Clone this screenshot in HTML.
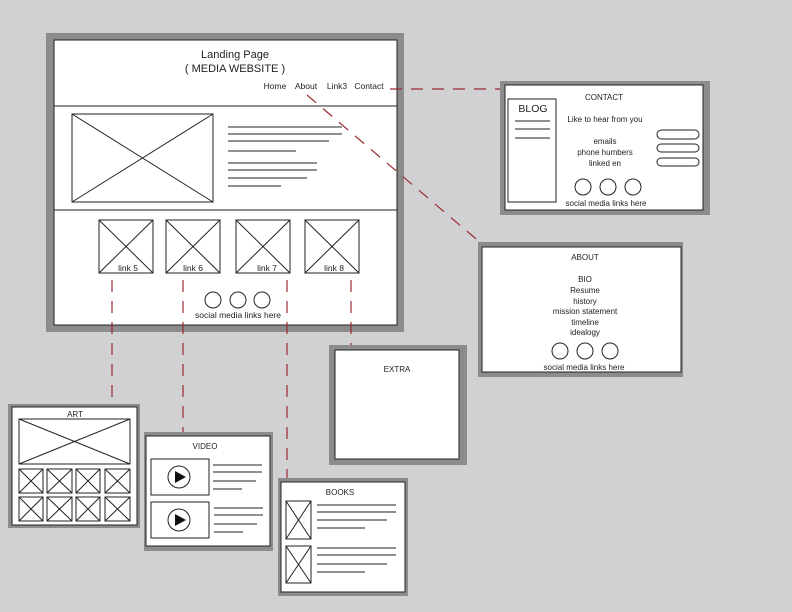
<!DOCTYPE html>
<html><head><style>html,body{margin:0;padding:0;background:#d1d1d3}svg{display:block}text{font-family:"Liberation Sans",sans-serif;fill:#222}</style></head><body>
<svg width="792" height="612" viewBox="0 0 792 612" xmlns="http://www.w3.org/2000/svg">
<rect width="792" height="612" fill="#d1d1d3"/>
<!-- main -->
<rect x="46" y="33" width="358" height="299" fill="#8c8c8c"/>
<rect x="54" y="40" width="343" height="285" fill="#fff" stroke="#222"/>
<g stroke="#222" fill="none" stroke-width="1">
<line x1="54" y1="106" x2="397" y2="106"/><line x1="54" y1="210" x2="397" y2="210"/>
<rect x="72" y="114" width="141" height="88"/><line x1="72" y1="114" x2="213" y2="202"/><line x1="213" y1="114" x2="72" y2="202"/>
<line x1="228" y1="127" x2="342" y2="127"/><line x1="228" y1="134" x2="342" y2="134"/><line x1="228" y1="141" x2="329" y2="141"/><line x1="228" y1="151" x2="296" y2="151"/>
<line x1="228" y1="163" x2="317" y2="163"/><line x1="228" y1="170" x2="317" y2="170"/><line x1="228" y1="178" x2="307" y2="178"/><line x1="228" y1="186" x2="281" y2="186"/>
<rect x="99" y="220" width="54" height="53"/><line x1="99" y1="220" x2="153" y2="273"/><line x1="153" y1="220" x2="99" y2="273"/>
<rect x="166" y="220" width="54" height="53"/><line x1="166" y1="220" x2="220" y2="273"/><line x1="220" y1="220" x2="166" y2="273"/>
<rect x="236" y="220" width="54" height="53"/><line x1="236" y1="220" x2="290" y2="273"/><line x1="290" y1="220" x2="236" y2="273"/>
<rect x="305" y="220" width="54" height="53"/><line x1="305" y1="220" x2="359" y2="273"/><line x1="359" y1="220" x2="305" y2="273"/>
<circle cx="213" cy="300" r="8"/><circle cx="238" cy="300" r="8"/><circle cx="262" cy="300" r="8"/>
</g>
<g font-size="8.5" text-anchor="middle">
<text x="235" y="58" font-size="11">Landing Page</text><text x="235" y="72" font-size="11">( MEDIA WEBSITE )</text>
<text x="275" y="89">Home</text><text x="306" y="89">About</text><text x="337" y="89">Link3</text><text x="369" y="89">Contact</text>
<text x="128" y="271">link 5</text><text x="193" y="271">link 6</text><text x="267" y="271">link 7</text><text x="334" y="271">link 8</text>
<text x="238" y="318">social media links here</text>
</g>
<g stroke="#9a2a30" stroke-width="1.2" stroke-dasharray="12,9" fill="none">
<line x1="112" y1="280" x2="112" y2="405"/><line x1="183" y1="280" x2="183" y2="434"/>
<line x1="287" y1="280" x2="287" y2="480"/><line x1="351" y1="280" x2="351" y2="346"/>
<line x1="390" y1="89" x2="502" y2="89"/><line x1="307" y1="95" x2="482" y2="244"/>
</g>
<!-- contact -->
<rect x="500" y="81" width="210" height="134" fill="#8c8c8c"/>
<rect x="505" y="85" width="198" height="125" fill="#fff" stroke="#222"/>
<g stroke="#222" fill="none">
<rect x="508" y="99" width="48" height="103"/>
<line x1="515" y1="121" x2="550" y2="121"/><line x1="515" y1="129" x2="550" y2="129"/><line x1="515" y1="138" x2="550" y2="138"/>
<rect x="657" y="130" width="42" height="9" rx="4.5"/><rect x="657" y="144" width="42" height="8" rx="4"/><rect x="657" y="158" width="42" height="8" rx="4"/>
<circle cx="583" cy="187" r="8"/><circle cx="608" cy="187" r="8"/><circle cx="633" cy="187" r="8"/>
</g>
<g font-size="8" text-anchor="middle">
<text x="533" y="112" font-size="10.5">BLOG</text><text x="604" y="100">CONTACT</text>
<text x="605" y="122">Like to hear from you</text><text x="605" y="144">emails</text><text x="605" y="155">phone humbers</text><text x="605" y="166">linked en</text>
<text x="606" y="206">social media links here</text>
</g>
<!-- about -->
<rect x="478" y="242" width="205" height="135" fill="#8c8c8c"/>
<rect x="482" y="247" width="199" height="125" fill="#fff" stroke="#222"/>
<g stroke="#222" fill="none"><circle cx="560" cy="351" r="8"/><circle cx="585" cy="351" r="8"/><circle cx="610" cy="351" r="8"/></g>
<g font-size="8" text-anchor="middle">
<text x="585" y="260">ABOUT</text><text x="585" y="282">BIO</text><text x="585" y="293">Resume</text><text x="585" y="304">history</text>
<text x="585" y="314">mission statement</text><text x="585" y="325">timeline</text><text x="585" y="335">idealogy</text>
<text x="584" y="370">social media links here</text>
</g>
<!-- extra -->
<rect x="329" y="345" width="138" height="120" fill="#8c8c8c"/>
<rect x="335" y="350" width="124" height="109" fill="#fff" stroke="#222"/>
<text x="397" y="372" font-size="8" text-anchor="middle">EXTRA</text>
<!-- art -->
<rect x="8" y="404" width="132" height="124" fill="#8c8c8c"/>
<rect x="12" y="407" width="125" height="118" fill="#fff" stroke="#222"/>
<text x="75" y="417" font-size="8" text-anchor="middle">ART</text>
<g stroke="#222" fill="none">
<rect x="19" y="419" width="111" height="45"/><line x1="19" y1="419" x2="130" y2="464"/><line x1="130" y1="419" x2="19" y2="464"/>
<rect x="19" y="469" width="24" height="24"/><line x1="19" y1="469" x2="43" y2="493"/><line x1="43" y1="469" x2="19" y2="493"/>
<rect x="47" y="469" width="25" height="24"/><line x1="47" y1="469" x2="72" y2="493"/><line x1="72" y1="469" x2="47" y2="493"/>
<rect x="76" y="469" width="24" height="24"/><line x1="76" y1="469" x2="100" y2="493"/><line x1="100" y1="469" x2="76" y2="493"/>
<rect x="105" y="469" width="25" height="24"/><line x1="105" y1="469" x2="130" y2="493"/><line x1="130" y1="469" x2="105" y2="493"/>
<rect x="19" y="497" width="24" height="24"/><line x1="19" y1="497" x2="43" y2="521"/><line x1="43" y1="497" x2="19" y2="521"/>
<rect x="47" y="497" width="25" height="24"/><line x1="47" y1="497" x2="72" y2="521"/><line x1="72" y1="497" x2="47" y2="521"/>
<rect x="76" y="497" width="24" height="24"/><line x1="76" y1="497" x2="100" y2="521"/><line x1="100" y1="497" x2="76" y2="521"/>
<rect x="105" y="497" width="25" height="24"/><line x1="105" y1="497" x2="130" y2="521"/><line x1="130" y1="497" x2="105" y2="521"/>
</g>
<!-- video -->
<rect x="144" y="432" width="129" height="119" fill="#8c8c8c"/>
<rect x="146" y="436" width="124" height="110" fill="#fff" stroke="#222"/>
<text x="205" y="449" font-size="8" text-anchor="middle">VIDEO</text>
<g stroke="#222" fill="none">
<rect x="151" y="459" width="58" height="36"/><rect x="151" y="502" width="58" height="36"/>
<circle cx="179" cy="477" r="11"/><circle cx="179" cy="520" r="11"/>
<line x1="213" y1="465" x2="262" y2="465"/><line x1="213" y1="472" x2="262" y2="472"/><line x1="213" y1="481" x2="256" y2="481"/><line x1="213" y1="489" x2="242" y2="489"/>
<line x1="214" y1="508" x2="263" y2="508"/><line x1="214" y1="515" x2="263" y2="515"/><line x1="214" y1="524" x2="257" y2="524"/><line x1="214" y1="532" x2="243" y2="532"/>
</g>
<polygon points="175,471 175,483 186,477" fill="#111"/><polygon points="175,514 175,526 186,520" fill="#111"/>
<!-- books -->
<rect x="278" y="478" width="130" height="118" fill="#8c8c8c"/>
<rect x="281" y="482" width="124" height="110" fill="#fff" stroke="#222"/>
<text x="340" y="495" font-size="8" text-anchor="middle">BOOKS</text>
<g stroke="#222" fill="none">
<rect x="286" y="501" width="25" height="38"/><line x1="286" y1="501" x2="311" y2="539"/><line x1="311" y1="501" x2="286" y2="539"/>
<rect x="286" y="546" width="25" height="37"/><line x1="286" y1="546" x2="311" y2="583"/><line x1="311" y1="546" x2="286" y2="583"/>
<line x1="317" y1="505" x2="396" y2="505"/><line x1="317" y1="512" x2="396" y2="512"/><line x1="317" y1="520" x2="387" y2="520"/><line x1="317" y1="528" x2="365" y2="528"/>
<line x1="317" y1="548" x2="396" y2="548"/><line x1="317" y1="555" x2="396" y2="555"/><line x1="317" y1="564" x2="387" y2="564"/><line x1="317" y1="572" x2="365" y2="572"/>
</g>
</svg>
</body></html>
